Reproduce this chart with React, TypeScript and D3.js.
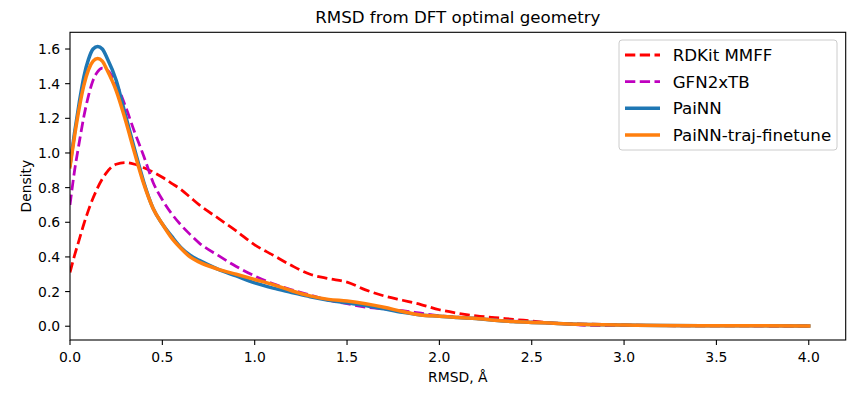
import React, { useEffect } from "react";
import * as d3 from "d3";

const W = 858;
const H = 395;

// x grid (RMSD, Å) shared by each series reading
const xsFine = [0, 0.025, 0.05, 0.075, 0.1, 0.125, 0.15, 0.175, 0.2, 0.25, 0.3, 0.35, 0.4, 0.45, 0.5, 0.55, 0.6, 0.65, 0.7, 0.8, 0.9, 1.0, 1.1, 1.2, 1.3, 1.4, 1.5, 1.6, 1.7, 1.8, 1.9, 2.0, 2.1, 2.2, 2.3, 2.4, 2.5, 2.6, 2.7, 2.8, 3.0, 3.2, 3.5, 4.0];

const painn = [0.93, 1.12, 1.29, 1.44, 1.54, 1.6, 1.615, 1.6, 1.55, 1.42, 1.22, 1.02, 0.83, 0.68, 0.59, 0.52, 0.455, 0.41, 0.38, 0.33, 0.29, 0.25, 0.22, 0.195, 0.17, 0.15, 0.135, 0.12, 0.1, 0.08, 0.065, 0.058, 0.05, 0.045, 0.035, 0.027, 0.022, 0.018, 0.013, 0.01, 0.007, 0.004, 0.003, 0.002];

const painnFt = [0.92, 1.1, 1.26, 1.39, 1.48, 1.53, 1.545, 1.53, 1.48, 1.36, 1.19, 1.0, 0.82, 0.68, 0.59, 0.51, 0.45, 0.4, 0.37, 0.33, 0.3, 0.27, 0.24, 0.205, 0.175, 0.155, 0.145, 0.13, 0.11, 0.085, 0.065, 0.058, 0.05, 0.044, 0.035, 0.027, 0.022, 0.018, 0.013, 0.01, 0.007, 0.004, 0.003, 0.002];

const rdkit = [0.31, 0.41, 0.5, 0.59, 0.67, 0.74, 0.8, 0.85, 0.89, 0.935, 0.945, 0.935, 0.915, 0.89, 0.86, 0.825, 0.79, 0.745, 0.7, 0.625, 0.55, 0.47, 0.41, 0.35, 0.3, 0.275, 0.255, 0.21, 0.175, 0.15, 0.125, 0.095, 0.075, 0.06, 0.05, 0.04, 0.03, 0.02, 0.015, 0.012, 0.008, 0.003, 0.002, 0.001];

const gfn2 = [0.7, 0.9, 1.06, 1.21, 1.33, 1.42, 1.47, 1.49, 1.48, 1.4, 1.27, 1.12, 0.98, 0.83, 0.73, 0.65, 0.585, 0.53, 0.48, 0.41, 0.345, 0.29, 0.245, 0.21, 0.18, 0.15, 0.13, 0.11, 0.1, 0.09, 0.075, 0.06, 0.052, 0.045, 0.037, 0.03, 0.025, 0.018, 0.012, 0.005, 0.003, 0.003, 0.003, 0.002];

const seriesNames = ["RDKit MMFF", "GFN2xTB", "PaiNN", "PaiNN-traj-finetune"];
const seriesValues = [rdkit, gfn2, painn, painnFt];
const seriesColors = ["#ff0000", "#bf00bf", "#1f77b4", "#ff7f0e"];
const seriesDashed = [true, true, false, false];
const seriesWidths = [2.78, 2.78, 3.5, 3.5];

const xTicks = [0, 0.5, 1.0, 1.5, 2.0, 2.5, 3.0, 3.5, 4.0];
const yTicks = [0, 0.2, 0.4, 0.6, 0.8, 1.0, 1.2, 1.4, 1.6];

const FONT = "DejaVu Sans, sans-serif";

export default function App() {
  useEffect(() => {
    document.body.style.margin = "0";
  }, []);

  const left = 70;
  const right = 845.7;
  const top = 32.3;
  const bottom = 340;

  const x = d3.scaleLinear().domain([0, 4.2]).range([left, right]);
  const y = d3.scaleLinear().domain([-0.0795, 1.6965]).range([bottom, top]);

  const line = d3
    .line<[number, number]>()
    .x((d) => x(d[0]))
    .y((d) => y(d[1]))
    .curve(d3.curveMonotoneX);

  const legX = 619;
  const legY = 40;
  const legW = 218;
  const legH = 110;
  const rowY = [55, 81.7, 108.3, 135];

  return (
    <svg
      width={W}
      height={H}
      style={{ position: "absolute", left: 0, top: 0, display: "block" }}
      fontFamily={FONT}
    >
      <rect x={0} y={0} width={W} height={H} fill="#ffffff" />
      <defs>
        <clipPath id="plotclip">
          <rect x={left} y={top} width={right - left} height={bottom - top} />
        </clipPath>
      </defs>
      <text
        x={(left + right) / 2}
        y={23.3}
        textAnchor="middle"
        fontSize={16.67}
        fill="#000"
      >
        RMSD from DFT optimal geometry
      </text>

      <g clipPath="url(#plotclip)">
        {seriesValues.map((vals, i) => (
          <path
            key={seriesNames[i]}
            d={line(xsFine.map((xv, k) => [xv, vals[k]] as [number, number])) || ""}
            fill="none"
            stroke={seriesColors[i]}
            strokeWidth={seriesWidths[i]}
            strokeDasharray={seriesDashed[i] ? "10.3,4.45" : undefined}
            strokeLinecap={seriesDashed[i] ? "butt" : "square"}
            strokeLinejoin="round"
          />
        ))}
      </g>

      {/* axes frame */}
      <rect
        x={left}
        y={top}
        width={right - left}
        height={bottom - top}
        fill="none"
        stroke="#000"
        strokeWidth={1.1}
      />

      {/* x ticks */}
      {xTicks.map((t) => (
        <g key={"x" + t}>
          <line x1={x(t)} x2={x(t)} y1={bottom} y2={bottom + 4.9} stroke="#000" strokeWidth={1.1} />
          <text x={x(t)} y={361.7} textAnchor="middle" fontSize={13.9} fill="#000">
            {t.toFixed(1)}
          </text>
        </g>
      ))}
      {/* y ticks */}
      {yTicks.map((t) => (
        <g key={"y" + t}>
          <line x1={left - 4.9} x2={left} y1={y(t)} y2={y(t)} stroke="#000" strokeWidth={1.1} />
          <text x={left - 9.8} y={y(t) + 5} textAnchor="end" fontSize={13.9} fill="#000">
            {t.toFixed(1)}
          </text>
        </g>
      ))}

      <text x={(left + right) / 2} y={382} textAnchor="middle" fontSize={13.9} fill="#000">
        RMSD, Å
      </text>
      <text
        transform={`translate(30.5, ${(top + bottom) / 2}) rotate(-90)`}
        textAnchor="middle"
        fontSize={13.9}
        fill="#000"
      >
        Density
      </text>

      {/* legend */}
      <rect
        x={legX}
        y={legY}
        width={legW}
        height={legH}
        rx={3}
        ry={3}
        fill="#ffffff"
        fillOpacity={0.8}
        stroke="#cccccc"
        strokeWidth={1}
      />
      {seriesNames.map((name, i) => (
        <g key={"leg" + name}>
          <line
            x1={625}
            x2={660}
            y1={rowY[i]}
            y2={rowY[i]}
            stroke={seriesColors[i]}
            strokeWidth={seriesWidths[i]}
            strokeDasharray={seriesDashed[i] ? "10.3,4.45" : undefined}
          />
          <text x={672.7} y={rowY[i] + 6} fontSize={16.67} fill="#000">
            {name}
          </text>
        </g>
      ))}
    </svg>
  );
}
